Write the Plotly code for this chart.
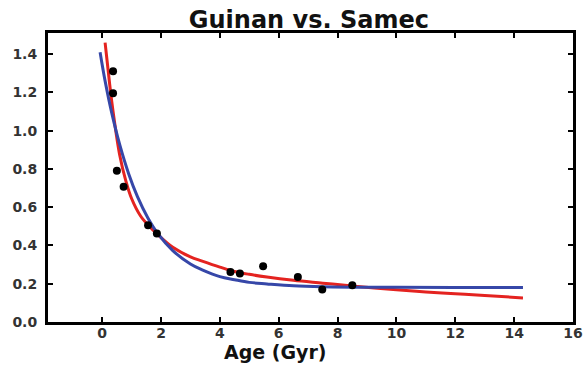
import plotly.graph_objects as go

# Data points (Age in Gyr, value)
pt_age = [0.37, 0.37, 0.50, 0.73, 1.56, 1.86, 4.36, 4.68, 5.47, 6.65, 7.48, 8.50]
pt_val = [1.31, 1.195, 0.79, 0.707, 0.505, 0.462, 0.261, 0.253, 0.291, 0.235, 0.170, 0.192]

# Blue fit curve
blue_age = [-0.07, 0.1, 0.33, 0.6, 0.9, 1.2, 1.55, 1.9, 2.4, 3.0, 3.4, 4.0, 4.5, 5.0, 5.6, 6.5, 7.5, 8.5, 10, 12, 14.3]
blue_val = [1.41, 1.26, 1.09, 0.925, 0.775, 0.655, 0.545, 0.46, 0.373, 0.303, 0.272, 0.237, 0.221, 0.207, 0.199, 0.189, 0.184, 0.182, 0.181, 0.180, 0.180]

# Red fit curve
red_age = [0.1, 0.25, 0.38, 0.6, 0.8, 1.0, 1.3, 1.6, 1.9, 2.4, 3.0, 3.4, 4.0, 4.5, 5.0, 5.6, 6.5, 7.5, 8.5, 10, 11, 12, 13, 14.3]
red_val = [1.46, 1.25, 1.09, 0.87, 0.74, 0.645, 0.555, 0.50, 0.455, 0.39, 0.34, 0.318, 0.287, 0.264, 0.249, 0.235, 0.218, 0.203, 0.188, 0.168, 0.157, 0.148, 0.138, 0.126]

x_ticks = [0, 2, 4, 6, 8, 10, 12, 14, 16]
y_ticks = [0.0, 0.2, 0.4, 0.6, 0.8, 1.0, 1.2, 1.4]

FONT = "DejaVu Sans"

fig = go.Figure()
fig.add_trace(go.Scatter(x=red_age, y=red_val, mode="lines",
                         line=dict(color="#e42320", width=3, shape="spline"), showlegend=False))
fig.add_trace(go.Scatter(x=blue_age, y=blue_val, mode="lines",
                         line=dict(color="#3647a8", width=3, shape="spline"), showlegend=False))
fig.add_trace(go.Scatter(x=pt_age, y=pt_val, mode="markers",
                         marker=dict(color="black", size=8), showlegend=False))

axis_common = dict(showgrid=False, zeroline=False, showline=True, linecolor="black",
                   linewidth=3, mirror="allticks", ticks="inside", ticklen=5,
                   tickwidth=1.5, tickcolor="black", automargin=False,
                   tickfont=dict(family=FONT, size=14, color="#333", weight="bold"))

fig.update_xaxes(range=[-1.84, 16], tickvals=x_ticks,
                 ticktext=[str(v) for v in x_ticks], ticklabelstandoff=-4, **axis_common)
fig.update_yaxes(range=[0, 1.51], tickvals=y_ticks,
                 ticktext=[f"{v:.1f}" for v in y_ticks], ticklabelstandoff=5, **axis_common)

fig.update_layout(
    width=585, height=367,
    margin=dict(l=48, r=12, t=33, b=45),
    paper_bgcolor="white", plot_bgcolor="white",
    title=dict(text="Guinan vs. Samec", x=0.528, xanchor="center", y=0.947, yanchor="middle",
               font=dict(family=FONT, size=24, color="#111", weight="bold")),
    annotations=[dict(text="Age (Gyr)", xref="paper", yref="paper", x=0.434, y=-0.104,
                      xanchor="center", yanchor="middle", showarrow=False,
                      font=dict(family=FONT, size=19, color="#111", weight="bold"))],
)

fig.write_html("out.html", config={"displayModeBar": False},
               post_script="document.body.style.margin='0';document.body.style.overflow='hidden';")
